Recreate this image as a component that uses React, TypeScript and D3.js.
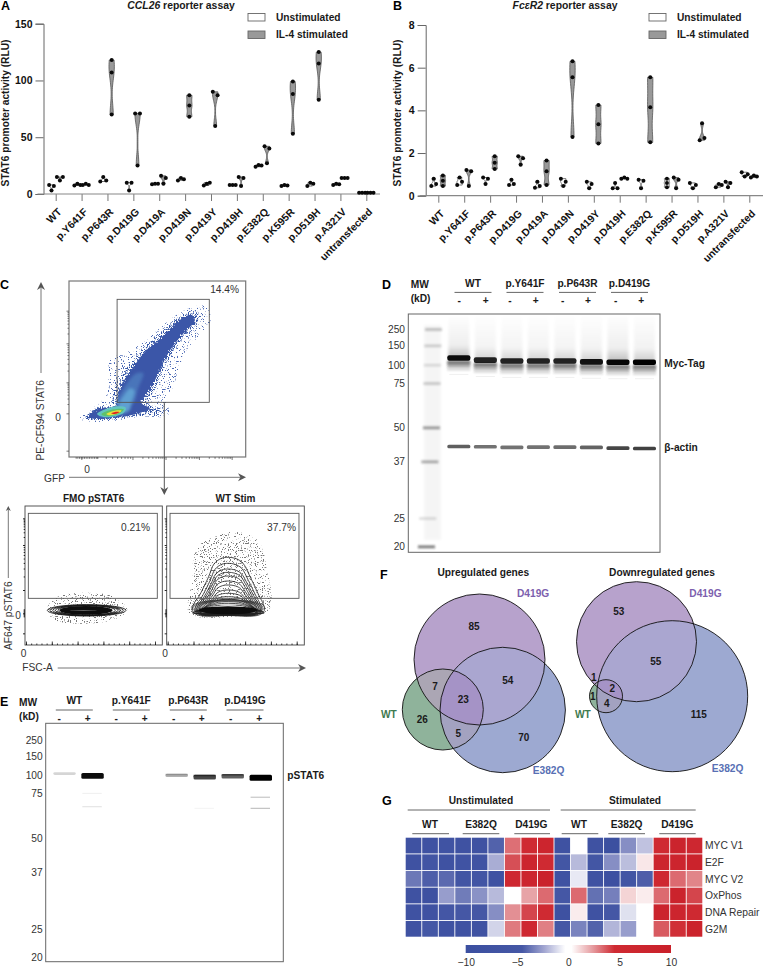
import React, { useEffect, useRef } from 'react';
import * as d3 from 'd3';

const FONT = '"Liberation Sans", Arial, sans-serif';

// ---- A / B reporter assays
const variants = ['WT', 'p.Y641F', 'p.P643R', 'p.D419G', 'p.D419A', 'p.D419N', 'p.D419Y', 'p.D419H', 'p.E382Q', 'p.K595R', 'p.D519H', 'p.A321V', 'untransfected'];
const conditions = ['Unstimulated', 'IL-4 stimulated'];

const ccl26Unstim = [[8, 3, 7], [7.5, 9, 8], [11, 15, 12], [10, 3, 10], [8.5, 9, 9], [12, 14, 13], [7.5, 9, 10], [8, 8, 8], [24, 25.5, 25], [7, 8, 7.5], [7, 10, 9], [8, 9, 8.5], [1, 1, 1]];
const ccl26Il4 = [[15, 12, 15], [8, 9, 8], [118, 107, 70], [71, 25, 71], [16, 14, 9], [87, 78, 68], [90, 87, 60], [15, 7, 14], [42, 27, 40], [99, 88, 53], [125, 115, 83], [14, 14, 14], [1, 1, 1]];
const fcerUnstim = [[0.45, 0.8, 0.55], [0.5, 0.85, 0.65], [0.85, 0.55, 0.8], [0.5, 0.75, 0.55], [0.37, 0.65, 0.45], [0.8, 0.65, 0.45], [0.65, 0.35, 0.55], [0.35, 0.6, 0.35], [0.75, 0.35, 0.7], [0.8, 0.6, 0.4], [0.6, 0.35, 0.5], [0.4, 0.55, 0.5], [1.1, 0.9, 1.0]];
const fcerIl4 = [[0.95, 0.7, 0.45], [1.2, 0.45, 1.15], [1.85, 1.55, 1.25], [1.85, 1.45, 1.75], [1.65, 1.15, 0.5], [6.3, 5.55, 2.75], [4.25, 3.35, 2.45], [0.8, 0.85, 0.8], [5.55, 4.15, 2.5], [0.85, 0.75, 0.35], [3.4, 2.6, 2.7], [0.65, 0.4, 0.6], [0.85, 0.95, 0.9]];

// ---- C flow cytometry, outlines (plot reading units)
const scatterOuter: [number, number][] = [[240, 535], [300, 488], [322, 462], [325, 420], [330, 360], [385, 335], [440, 300], [490, 255], [540, 218], [580, 200], [618, 200], [632, 240], [596, 288], [560, 330], [535, 390], [520, 440], [500, 470], [505, 525], [420, 530], [330, 544], [262, 544]];
const scatterHalo: [number, number][] = [[330, 500], [345, 440], [380, 385], [430, 325], [485, 275], [535, 232], [580, 212], [600, 222], [590, 250], [540, 305], [510, 350], [485, 400], [462, 455], [440, 488], [480, 505], [490, 520], [400, 530], [300, 540], [255, 536], [295, 500]];
const scatterBody: [number, number][] = [[348, 500], [360, 445], [398, 385], [440, 330], [490, 288], [540, 238], [575, 225], [585, 240], [540, 292], [505, 340], [478, 395], [450, 450], [425, 488], [450, 505], [400, 524], [300, 537], [262, 532], [300, 505]];
const scatterSoft: [number, number][] = [[352, 492], [372, 445], [410, 400], [430, 400], [415, 445], [398, 492]];
const scatterCyan: [number, number][] = [[345, 510], [368, 472], [392, 445], [404, 452], [395, 488], [388, 512], [340, 526], [298, 528]];
const scatterTeal: [number, number][] = [[292, 522], [340, 500], [378, 503], [372, 518], [320, 532]];
const scatterGreen: [number, number][] = [[305, 523], [340, 508], [372, 508], [360, 520], [320, 529]];
const scatterYellow: [number, number][] = [[320, 522], [345, 512], [365, 512], [355, 520], [330, 526]];
const scatterRed: [number, number][] = [[334, 520], [350, 515], [359, 516], [346, 522]];

const gfpMajor = [245, 398, 497, 597, 695];
const stat6Major = [212, 310, 427, 520, 632];
const pstat6Major = [205, 285, 420, 490, 550];
const fscMajor = [0, 50, 100, 150, 200, 250];

const fmoSpeckle: [number, number][] = [[140, 480], [170, 442], [260, 428], [340, 440], [382, 480], [330, 512], [170, 512]];
const fmoRings: [number, number][] = [[118, 17], [110, 16], [102, 15], [94, 14], [86, 14]];
const stimSpeckle: [number, number][] = [[568, 490], [575, 400], [590, 295], [640, 262], [700, 245], [772, 270], [800, 350], [806, 480], [690, 500]];
const stimContourTop = [322, 340, 357, 367, 378, 393, 405, 420, 430, 440, 448, 455, 460, 465];
const stimContourWidth = [108, 100, 96, 92, 88, 86, 84, 84, 86, 90, 95, 100, 105, 108];
const humpProfile: [number, number][] = [[-1, 0.05], [-0.95, 0.18], [-0.82, 0.3], [-0.55, 0.65], [-0.4, 0.88], [-0.2, 0.98], [0, 1], [0.2, 0.98], [0.4, 0.9], [0.6, 0.66], [0.85, 0.32], [0.98, 0.15], [1, 0.05], [0.85, -0.03], [0, -0.04], [-0.85, -0.03]];
const stimRings: [number, number][] = [[110, 23], [104, 22], [98, 21], [92, 20], [86, 19]];

// ---- D / E blots
const mwLabels = [250, 150, 100, 75, 50, 37, 25, 20];
const mwPosD = [268, 317, 375, 430, 563, 665, 835, 920];
const mwPosE = [300, 348, 406, 461, 595, 697, 868, 952];
const blotGroups = ['WT', 'p.Y641F', 'p.P643R', 'p.D419G'];
const blotLanes = ['WT -', 'WT +', 'Y -', 'Y +', 'P -', 'P +', 'D -', 'D +'];
const signs = ['-', '+', '-', '+', '-', '+', '-', '+'];
const ladderStrength = [0.26, 0.2, 0.14, 0.22, 0.45, 0.38, 0.14, 0.6];
const mycMw = [116, 111, 109, 109, 109, 107, 106, 106];
const mycStrength = [0.95, 0.85, 0.85, 0.85, 0.85, 0.92, 0.97, 1];
const actinMw = [42.3, 42.2, 42, 42.1, 42.1, 42, 41.7, 41.6];
const actinStrength = [0.66, 0.58, 0.58, 0.58, 0.6, 0.64, 0.76, 0.78];
const pstatLaneOrder = [0, 1, 4, 5, 6, 7];
const pstatStrength = [0.16, 0.95, 0.3, 0.72, 0.62, 1];
const pstatMain = [101, 99.5, 98.5, 97, 98, 97];
const pstatFaintLane = [1, 1, 7, 7, 5];
const pstatFaintMw = [76, 67, 73, 66, 66];
const pstatFaintStrength = [0.05, 0.1, 0.22, 0.24, 0.04];

// ---- F venn
const upLabels = ['85', '54', '7', '23', '26', '5', '70'];
const downLabels = ['53', '55', '1', '2', '1', '4', '115'];

// ---- G heatmap
const pathways = ['MYC V1', 'E2F', 'MYC V2', 'OxPhos', 'DNA Repair', 'G2M'];
const heatMyc1 = [-8, -8, -7, -8, -8, -4.2, 3.2, 4.6, 7, -8, 0.3, -8, -9.5, -3, -1.7, 4.6, 8, 6];
const heatE2f = [-8, -6, -8, -7, -7, -2.2, 3.8, 7, 4.6, -5.5, -1.9, -5.5, -3, -1.8, 0.8, 7, 7, 8.5];
const heatMyc2 = [-3.6, -4.3, -4, -6, -6, -8, 5.5, 7, 9, -8, -0.8, -8, -9, -6, -4.3, 5.5, 3.3, 2.8];
const heatOx = [-8, -8.5, -2.6, -3.5, -2.9, -1.9, 0, 2.2, 3.3, -4.6, 3.3, -3.8, -3.4, 1.2, 0.7, 3.3, 8.5, 4];
const heatDna = [-8, -8, -5, -4.5, -4.6, -3, 2.6, 4, 4.6, -8.5, 0.7, -8, -4.6, -1, 0, 8, 7, 5];
const heatG2m = [-8, -4.8, -8, -8, -8, -1.3, 3, 5.5, 2.9, -4.5, -3.3, -4.2, -2, -2.6, 0.1, 3.6, 4.4, 8.5];
const colourStops = [-10, -4.5, -2.4, -0.3, 0.3, 2.4, 4.5, 10];
const colourRange = ['#3b4fa0', '#4557a5', '#a0a4d0', '#ffffff', '#ffffff', '#e59a9e', '#cf2a32', '#c9202a'];
const colourTicks = [-10, -5, 0, 5, 10];

type G = d3.Selection<any, any, any, any>;

const txt = (g: G, x: number, y: number, s: string, o: any = {}) =>
  g.append('text')
    .attr('x', x).attr('y', y)
    .attr('font-family', FONT)
    .attr('font-size', o.size ?? 10.3)
    .attr('font-weight', o.bold ? 'bold' : 'normal')
    .attr('text-anchor', o.anchor ?? 'start')
    .attr('fill', o.fill ?? '#1a1a1a')
    .attr('transform', o.rotate ? `rotate(${o.rotate},${x},${y})` : null)
    .text(s);

// kernel density for the violin outline, cut flat at min and max like the prism plots
const violinProfile = (vals: number[], halfWidth: number): [number, number][] => {
  const lo = d3.min(vals)!;
  const hi = d3.max(vals)!;
  const bw = Math.max((hi - lo) * 0.2, 1e-3);
  const ts = d3.range(0, 1.0001, 1 / 24).map(t => lo + (hi - lo) * t);
  const dens = ts.map(t => d3.sum(vals, v => Math.exp(-0.5 * ((t - v) / bw) ** 2)));
  const top = d3.max(dens)!;
  return ts.map((t, i) => [t, Math.max(0.35, (halfWidth * dens[i]) / top)]);
};

// points that would overlap are put next to each other in a row
const dodge = (vals: number[], y: d3.ScaleLinear<number, number>) => {
  const px = vals.map(v => y(v));
  const order = d3.range(vals.length);
  const offs = vals.map(() => 0);
  const seen = new Set<number>();
  order.forEach(i => {
    if (seen.has(i)) return;
    const cluster = [i];
    seen.add(i);
    for (let k = 0; k < cluster.length; k++) {
      order.forEach(j => {
        if (!seen.has(j) && Math.abs(px[j] - px[cluster[k]]) < 3.6) {
          seen.add(j);
          cluster.push(j);
        }
      });
    }
    const step = cluster.length > 2 ? 3 : 4.8;
    cluster.sort((a, b) => a - b).forEach((c, n) => {
      offs[c] = (n - (cluster.length - 1) / 2) * step;
    });
  });
  return offs;
};

function drawReporter(svg: G, o: any) {
  const g = svg.append('g');
  const y = d3.scaleLinear().domain(o.domain).range(o.yRange);
  const x = d3.scalePoint<string>().domain(o.categories).range(o.xRange);
  const lane = d3.scalePoint<string>().domain(conditions).range([-o.laneOff, o.laneOff]);

  const yAxis = g.append('g').attr('transform', `translate(${o.axisX},0)`)
    .call(d3.axisLeft(y).tickValues(o.ticks).tickSize(8).tickPadding(3));
  yAxis.selectAll('path,line').attr('stroke', '#666').attr('stroke-width', 1);
  yAxis.selectAll('text').attr('font-family', FONT).attr('font-size', 10.5).attr('font-weight', 'bold').attr('fill', '#111');

  const xAxis = g.append('g').attr('transform', `translate(0,${o.yRange[0]})`)
    .call(d3.axisBottom(x).tickSize(7).tickPadding(3));
  xAxis.select('.domain').remove();
  xAxis.selectAll('line').attr('stroke', '#777').attr('stroke-width', 1);
  xAxis.selectAll('text')
    .attr('font-family', FONT).attr('font-size', 10.4).attr('font-weight', 'bold').attr('fill', '#111')
    .attr('text-anchor', 'end').attr('y', 0).attr('dy', '0.35em')
    .attr('transform', 'translate(3.5,16) rotate(-45)');
  g.append('line').attr('x1', o.axisX - 6).attr('x2', o.axisEnd)
    .attr('y1', o.yRange[0]).attr('y2', o.yRange[0]).attr('stroke', '#888').attr('stroke-width', 1.2);

  const series = [o.unstim, o.il4];
  conditions.forEach((c, ci) => {
    o.categories.forEach((cat: string, i: number) => {
      const vals: number[] = series[ci][i];
      const cx = x(cat)! + lane(c)!;
      const area = d3.area<[number, number]>()
        .x0(d => cx - d[1]).x1(d => cx + d[1]).y(d => y(d[0])).curve(d3.curveBasis);
      g.append('path').attr('d', area(violinProfile(vals, 2.7)))
        .attr('fill', ci === 0 ? '#fff' : '#999').attr('stroke', '#555').attr('stroke-width', 0.8);
      const offs = dodge(vals, y);
      vals.forEach((v, k) => {
        g.append('circle').attr('cx', cx + offs[k]).attr('cy', y(v)).attr('r', 2).attr('fill', '#0a0a0a');
      });
    });
  });

  // legend
  conditions.forEach((c, i) => {
    const ly = 13.5 + i * 17.5;
    g.append('rect').attr('x', o.legendX).attr('y', ly).attr('width', 17).attr('height', 7.5)
      .attr('fill', i === 0 ? '#fff' : '#999').attr('stroke', '#666').attr('stroke-width', 0.9);
    txt(g, o.legendX + 28, ly + 7.3, c, { bold: true, size: 10.2 });
  });

  const title = txt(g, o.titleX, 8.5, '', { bold: true, size: 10.4, anchor: 'middle' });
  title.append('tspan').attr('font-style', 'italic').text(o.gene);
  title.append('tspan').text(' reporter assay');

  txt(g, o.titleY, 113, 'STAT6 promoter activity (RLU)', { bold: true, size: 10.2, anchor: 'middle', rotate: -90 });
}

const arrow = (g: G, x1: number, y1: number, x2: number, y2: number, head = 7, colour = '#777') => {
  const a = Math.atan2(y2 - y1, x2 - x1);
  g.append('line').attr('x1', x1).attr('y1', y1)
    .attr('x2', x2 - Math.cos(a) * head * 0.7).attr('y2', y2 - Math.sin(a) * head * 0.7)
    .attr('stroke', colour).attr('stroke-width', 1);
  const pts: [number, number][] = [
    [x2, y2],
    [x2 - Math.cos(a) * head - Math.sin(a) * head * 0.5, y2 - Math.sin(a) * head + Math.cos(a) * head * 0.5],
    [x2 - Math.cos(a) * head * 0.7, y2 - Math.sin(a) * head * 0.7],
    [x2 - Math.cos(a) * head + Math.sin(a) * head * 0.5, y2 - Math.sin(a) * head - Math.cos(a) * head * 0.5],
  ];
  g.append('polygon').attr('points', pts.map(p => p.join(',')).join(' ')).attr('fill', '#555');
};

// minor log ticks between two major positions
const logMinors = (majors: number[]) =>
  d3.pairs(majors).flatMap(([a, b]) => d3.range(2, 10).map(k => a + (b - a) * Math.log10(k)));

function drawFlow(svg: G) {
  const g = svg.append('g');
  const fx = d3.scaleLinear().domain([208, 737]).range([69, 245.7]);
  const fy = d3.scaleLinear().domain([651, 123]).range([457, 281]);
  const blob = d3.line<[number, number]>().x(d => fx(d[0])).y(d => fy(d[1])).curve(d3.curveCatmullRomClosed.alpha(0.5));

  g.append('path').attr('d', blob(scatterOuter)).attr('fill', '#4a68b4').attr('filter', 'url(#speckleSparse)');
  g.append('path').attr('d', blob(scatterHalo)).attr('fill', '#3557a8').attr('filter', 'url(#speckleDense)');
  g.append('path').attr('d', blob(scatterBody)).attr('fill', '#3a57a8').attr('filter', 'url(#rough)');
  g.append('path').attr('d', blob(scatterSoft)).attr('fill', '#4a74ba').attr('filter', 'url(#blur15)');
  [[scatterCyan, '#5f9fd2'], [scatterTeal, '#62c3c0'], [scatterGreen, '#5fc26a'], [scatterYellow, '#e8e23c'], [scatterRed, '#e2231f']]
    .forEach(([poly, col]: any, i) => {
      g.append('path').attr('d', blob(poly)).attr('fill', col).attr('filter', i === 0 ? 'url(#blur15)' : 'url(#blur05)');
    });

  g.append('rect').attr('x', fx(208)).attr('y', fy(123)).attr('width', fx(737) - fx(208)).attr('height', fy(651) - fy(123))
    .attr('fill', 'none').attr('stroke', '#777').attr('stroke-width', 1.2);
  g.append('rect').attr('x', fx(352)).attr('y', fy(178)).attr('width', fx(628) - fx(352)).attr('height', fy(487) - fy(178))
    .attr('fill', 'none').attr('stroke', '#555').attr('stroke-width', 0.9);
  txt(g, fx(717), 293, '14.4%', { anchor: 'end', size: 10.2, fill: '#333' });

  const left = g.append('g').attr('transform', `translate(${fx(208)},0)`)
    .call(d3.axisLeft(fy).tickValues(stat6Major).tickSize(2.5).tickFormat(() => ''));
  const leftMinor = g.append('g').attr('transform', `translate(${fx(208)},0)`)
    .call(d3.axisLeft(fy).tickValues(logMinors([stat6Major[1], stat6Major[0]]).concat(logMinors([stat6Major[2], stat6Major[1]]), logMinors([stat6Major[3], stat6Major[2]]))).tickSize(1.5).tickFormat(() => ''));
  const bottom = g.append('g').attr('transform', `translate(0,${fy(651)})`)
    .call(d3.axisBottom(fx).tickValues(gfpMajor).tickSize(3).tickFormat(() => ''));
  const bottomMinor = g.append('g').attr('transform', `translate(0,${fy(651)})`)
    .call(d3.axisBottom(fx).tickValues(logMinors(gfpMajor).concat(d3.range(228, 296, 5))).tickSize(1.8).tickFormat(() => ''));
  [left, leftMinor, bottom, bottomMinor].forEach(a => {
    a.select('.domain').remove();
    a.selectAll('line').attr('stroke', '#444').attr('stroke-width', 0.7);
  });

  txt(g, 58, 420.5, '0', { anchor: 'middle', size: 10.2, fill: '#333' });
  txt(g, fx(262), 473.3, '0', { anchor: 'middle', size: 10.2, fill: '#333' });
  txt(g, 44, 482.3, 'GFP', { size: 10.2, fill: '#333' });
  arrow(g, 69, 477.3, 246, 477.3, 8);
  arrow(g, 41, 373, 41, 282, 8);
  txt(g, 44, 380, 'PE-CF594 STAT6', { size: 10.2, anchor: 'end', rotate: -90, fill: '#333' });
  arrow(g, 164.3, 402.3, 164.3, 495, 8, '#555');

  // lower row
  const py = d3.scaleLinear().domain([585, 168]).range([645, 506]);
  const panels = [
    { title: 'FMO pSTAT6', domain: [75, 487], range: [25, 162.3], gate: [85, 472], pct: '0.21%', pctX: 150 },
    { title: 'WT Stim', domain: [500, 913], range: [166.7, 304.3], gate: [510, 897], pct: '37.7%', pctX: 296 },
  ];
  const fsc = d3.scaleLinear().domain([0, 250]).range([0, 129]);
  panels.forEach((p, pi) => {
    const px = d3.scaleLinear().domain(p.domain).range(p.range);
    const pg = g.append('g');
    const poly = d3.line<[number, number]>().x(d => px(d[0])).y(d => py(d[1])).curve(d3.curveCatmullRomClosed.alpha(0.5));
    const ell = (cx: number, cy: number, rx: number, ry: number) =>
      pg.append('ellipse').attr('cx', px(cx)).attr('cy', py(cy))
        .attr('rx', px(cx + rx) - px(cx)).attr('ry', py(cy + ry) - py(cy));

    if (pi === 0) {
      pg.append('path').attr('d', poly(fmoSpeckle)).attr('fill', '#777').attr('filter', 'url(#speckleMid)');
      fmoRings.forEach(([rx, ry]) => {
        ell(260, 481, rx, ry).attr('fill', 'none').attr('stroke', '#111').attr('stroke-width', 0.8);
      });
      ell(258, 481, 80, 13).attr('fill', '#0d0d0d');
      ell(250, 481, 42, 0.8).attr('fill', '#bbb');
    } else {
      pg.append('path').attr('d', poly(stimSpeckle)).attr('fill', '#777').attr('filter', 'url(#speckleMid)');
      stimRings.forEach(([rx, ry]) => {
        ell(684, 472, rx, ry).attr('fill', '#fff').attr('fill-opacity', 0.5).attr('stroke', '#333').attr('stroke-width', 0.6);
      });
      stimContourTop.forEach((top, i) => {
        const hw = stimContourWidth[i];
        const pts = humpProfile.map(([t, f]): [number, number] => [685 + t * hw, 490 - f * (490 - top)]);
        pg.append('path').attr('d', poly(pts)).attr('fill', 'none').attr('stroke', '#222').attr('stroke-width', 0.8);
      });
      ell(684, 481, 88, 12).attr('fill', '#0d0d0d');
      ell(684, 465, 26, 2).attr('fill', '#eee');
      ell(640, 470, 18, 1).attr('fill', '#aaa');
    }

    pg.append('rect').attr('x', p.range[0]).attr('y', 506).attr('width', p.range[1] - p.range[0]).attr('height', 139)
      .attr('fill', 'none').attr('stroke', '#444').attr('stroke-width', 0.9);
    pg.append('rect').attr('x', px(p.gate[0])).attr('y', py(190)).attr('width', px(p.gate[1]) - px(p.gate[0])).attr('height', py(445) - py(190))
      .attr('fill', 'none').attr('stroke', '#555').attr('stroke-width', 0.9);
    txt(pg, p.pctX, 530.7, p.pct, { anchor: 'end', size: 10.2, fill: '#333' });
    txt(pg, (p.range[0] + p.range[1]) / 2, 501.7, p.title, { anchor: 'middle', bold: true, size: 10 });

    const fscAxis = d3.scaleLinear().domain([0, 250]).range([p.range[0] + 1, p.range[0] + 1 + fsc(250)]);
    const a1 = pg.append('g').attr('transform', 'translate(0,645)')
      .call(d3.axisBottom(fscAxis).tickValues(fscMajor).tickSize(-3.5).tickFormat(() => ''));
    const a2 = pg.append('g').attr('transform', 'translate(0,645)')
      .call(d3.axisBottom(fscAxis).tickValues(d3.range(0, 260, 10)).tickSize(-1.5).tickFormat(() => ''));
    [a1, a2].forEach(a => {
      a.select('.domain').remove();
      a.selectAll('line').attr('stroke', '#111').attr('stroke-width', 0.8);
    });
    const yRule = pg.append('g').attr('transform', `translate(${p.range[0]},0)`)
      .call(d3.axisLeft(py).tickValues(pstat6Major).tickSize(2).tickFormat(() => ''));
    const yMinor = pg.append('g').attr('transform', `translate(${p.range[0]},0)`)
      .call(d3.axisLeft(py).tickValues(logMinors([pstat6Major[2], pstat6Major[1]]).concat(logMinors([pstat6Major[1], pstat6Major[0]]), d3.range(478, 502, 3))).tickSize(1.3).tickFormat(() => ''));
    [yRule, yMinor].forEach(a => {
      a.select('.domain').remove();
      a.selectAll('line').attr('stroke', '#111').attr('stroke-width', 0.9);
    });
    txt(pg, p.range[0] - 1.5, 656.7, '0', { anchor: 'middle', size: 10.2, fill: '#333' });
  });

  txt(g, 18, 619.3, '0', { anchor: 'middle', size: 10.2, fill: '#333' });
  txt(g, 22.3, 670.7, 'FSC-A', { size: 10.2, fill: '#333' });
  arrow(g, 57.7, 668, 306, 668, 8);
  txt(g, 12, 650, 'AF647 pSTAT6', { size: 10.2, rotate: -90, fill: '#333' });
  arrow(g, 8.3, 578, 8.3, 506, 5);
}

// piecewise log scale from MW to gel position
const mwScale = (positions: number[], y0: number) =>
  d3.scaleLog().domain(mwLabels).range(positions.map(p => y0 + p / 3));

function blotHeader(g: G, o: any) {
  txt(g, o.mwX, o.mwY, 'MW', { bold: true, size: 10.2 });
  txt(g, o.mwX, o.mwY + o.kdDy, '(kD)', { bold: true, size: 10.2 });
  blotGroups.forEach((name, i) => {
    const c = o.groupX[i];
    txt(g, c, o.headY, name, { anchor: 'middle', bold: true, size: 10.2 });
    g.append('line').attr('x1', c - 18.5).attr('x2', c + 18.5).attr('y1', o.headY + 5.7).attr('y2', o.headY + 5.7)
      .attr('stroke', '#555').attr('stroke-width', 0.9);
  });
  signs.forEach((s, i) => {
    txt(g, o.signX[i], o.signY, s, { anchor: 'middle', bold: true, size: 10.2 });
  });
}

function drawBlotD(svg: G) {
  const g = svg.append('g');
  const y = mwScale(mwPosD, 240);
  const lanes = d3.scaleBand<string>().domain(blotLanes).range([447.3, 656]).paddingInner(0.13);
  const ladderShift = d3.scaleLog().domain([250, 50, 20]).range([0, -2, -7]);

  blotLanes.forEach((l, i) => {
    const x = lanes(l)!;
    const w = lanes.bandwidth();
    const yb = y(mycMw[i]);
    g.append('rect').attr('x', x + 1).attr('y', 316).attr('width', w - 2).attr('height', yb - 316)
      .attr('fill', 'url(#smear)').attr('opacity', mycStrength[i] * (i === 0 || i === 6 ? 1 : 0.75)).attr('filter', 'url(#blur15)');
    [[10.5, 0.2, 2], [7.5, 0.42, 2], [5, 0.55, 2.2], [3, 0.7, 2.2]].forEach(([dy, op, h]) => {
      g.append('rect').attr('x', x).attr('y', yb + dy).attr('width', w).attr('height', h)
        .attr('fill', '#222').attr('opacity', op).attr('filter', 'url(#blur1)');
    });
    g.append('rect').attr('x', x).attr('y', yb - 2.7).attr('width', w).attr('height', 5.6).attr('rx', 2)
      .attr('fill', '#000').attr('opacity', mycStrength[i]).attr('filter', 'url(#blur07)');
    g.append('rect').attr('x', x + 2).attr('y', yb + 16).attr('width', w - 4).attr('height', 1)
      .attr('fill', '#000').attr('opacity', 0.06).attr('filter', 'url(#blur05)');
    g.append('rect').attr('x', x).attr('y', y(actinMw[i]) - 1.8).attr('width', w).attr('height', 3.6).attr('rx', 1.5)
      .attr('fill', '#111').attr('opacity', actinStrength[i]).attr('filter', 'url(#blur07)');
  });

  g.append('rect').attr('x', 424).attr('y', 325).attr('width', 17).attr('height', 215).attr('fill', '#000').attr('opacity', 0.035).attr('filter', 'url(#blur15)');
  mwLabels.forEach((mw, i) => {
    g.append('rect').attr('x', 425 + ladderShift(mw)).attr('y', y(mw) - 1.2).attr('width', 17).attr('height', 2.8)
      .attr('fill', '#222').attr('opacity', ladderStrength[i]).attr('filter', 'url(#blur1)');
    txt(g, 405, y(mw) + 3.6, String(mw), { anchor: 'end', size: 10.2, fill: '#333' });
  });

  g.append('rect').attr('x', 408.3).attr('y', 314).attr('width', 251.7).attr('height', 238.3)
    .attr('fill', 'none').attr('stroke', '#666').attr('stroke-width', 1);

  blotHeader(g, {
    mwX: 410.7, mwY: 288, kdDy: 14, headY: 286.7, groupX: [473, 525, 577.5, 629.5],
    signX: [459.3, 485.7, 510, 535.7, 562.7, 588, 615.7, 641.3], signY: 304,
  });
  txt(g, 664.3, 367, 'Myc-Tag', { bold: true, size: 10.2 });
  txt(g, 664.3, 451, 'β-actin', { bold: true, size: 10.2 });
}

function drawBlotE(svg: G) {
  const g = svg.append('g');
  const y = mwScale(mwPosE, 640);
  const lanes = d3.scaleBand<string>().domain(blotLanes).range([53.3, 272]).paddingInner(0.2);

  pstatLaneOrder.forEach((li, i) => {
    const x = lanes(blotLanes[li])!;
    const w = lanes.bandwidth();
    const yb = y(pstatMain[i]);
    const s = pstatStrength[i];
    g.append('rect').attr('x', x).attr('y', yb - 2.6).attr('width', w).attr('height', 2 + s * 4).attr('rx', 1.5)
      .attr('fill', '#000').attr('opacity', s).attr('filter', 'url(#blur07)');
    if (s > 0.25 && s < 0.8) {
      g.append('rect').attr('x', x).attr('y', yb - 2.6).attr('width', w).attr('height', 1.6)
        .attr('fill', '#000').attr('opacity', s * 0.6).attr('filter', 'url(#blur05)');
    }
  });
  pstatFaintLane.forEach((li, i) => {
    g.append('rect').attr('x', lanes(blotLanes[li])! + 1).attr('y', y(pstatFaintMw[i])).attr('width', lanes.bandwidth() - 3).attr('height', 1.2)
      .attr('fill', '#000').attr('opacity', pstatFaintStrength[i]).attr('filter', 'url(#blur05)');
  });

  mwLabels.forEach(mw => {
    txt(g, 42.7, y(mw) + 3.6, String(mw), { anchor: 'end', size: 10.2, fill: '#333' });
  });
  g.append('rect').attr('x', 45.7).attr('y', 723.3).attr('width', 237.6).attr('height', 238.4)
    .attr('fill', 'none').attr('stroke', '#666').attr('stroke-width', 1);

  blotHeader(g, {
    mwX: 19, mwY: 706, kdDy: 13.5, headY: 704.3, groupX: [74.3, 131.3, 188.3, 245],
    signX: [59.3, 87.7, 116.3, 144.7, 173.7, 201.7, 230.7, 259.3], signY: 722,
  });
  txt(g, 287.3, 779.3, 'pSTAT6', { bold: true, size: 10.2 });
}

function drawVenn(svg: G, o: any, idx: number) {
  const g = svg.append('g');
  const names = ['d', 'e', 'w'];
  const defs = g.append('defs');
  names.forEach(n => {
    const c = o[n];
    defs.append('clipPath').attr('id', `v${idx}${n}`)
      .append('circle').attr('cx', c[0]).attr('cy', c[1]).attr('r', c[2]);
  });
  const region = (sets: string[], colour: string) => {
    let host: G = g;
    sets.slice(1).forEach(s => { host = host.append('g').attr('clip-path', `url(#v${idx}${s})`); });
    const c = o[sets[0]];
    host.append('circle').attr('cx', c[0]).attr('cy', c[1]).attr('r', c[2]).attr('fill', colour);
  };
  region(['d'], '#b7a2cc');
  region(['e'], '#9da9d1');
  region(['w'], '#8fb39b');
  region(['d', 'e'], '#aaa6d0');
  region(['d', 'w'], '#aba6b4');
  region(['e', 'w'], '#a3a2c0');
  region(['d', 'e', 'w'], '#a593c6');
  names.forEach(n => {
    const c = o[n];
    g.append('circle').attr('cx', c[0]).attr('cy', c[1]).attr('r', c[2]).attr('fill', 'none').attr('stroke', '#111').attr('stroke-width', 0.9);
  });
  o.labels.forEach((s: string, i: number) => {
    txt(g, o.at[i][0], o.at[i][1] + 3.6, s, { anchor: 'middle', bold: true, size: 10 });
  });
  txt(g, o.title[1], 575.7, o.title[0], { anchor: 'middle', bold: true, size: 10.2 });
  txt(g, o.dl[0], o.dl[1], 'D419G', { bold: true, size: 10.2, fill: '#7d5fae' });
  txt(g, o.el[0], o.el[1], 'E382Q', { bold: true, size: 10.2, fill: '#5870b4' });
  txt(g, o.wl[0], o.wl[1], 'WT', { bold: true, size: 10.2, fill: '#3f7a4e' });
}

function drawHeat(svg: G) {
  const g = svg.append('g');
  const table = [heatMyc1, heatE2f, heatMyc2, heatOx, heatDna, heatG2m];
  const col = d3.scaleBand<number>().domain(d3.range(18)).range([405.7, 702.3]).paddingInner(0.055);
  const row = d3.scaleBand<string>().domain(pathways).range([837.7, 936.7]).paddingInner(0.055);
  const colour = d3.scaleLinear<string>().domain(colourStops).range(colourRange);

  table.forEach((vals, r) => {
    vals.forEach((v, c) => {
      g.append('rect').attr('x', col(c)!).attr('y', row(pathways[r])!)
        .attr('width', col.bandwidth()).attr('height', row.bandwidth()).attr('fill', colour(v));
    });
    txt(g, 705, row(pathways[r])! + row.bandwidth() / 2 + 3.7, pathways[r], { size: 10.3, fill: '#333' });
  });

  [['Unstimulated', 481, 407.7, 550], ['Stimulated', 635, 560.7, 695.7]].forEach(([s, c, a, b]: any) => {
    txt(g, c, 804, s, { anchor: 'middle', bold: true, size: 10.2 });
    g.append('line').attr('x1', a).attr('x2', b).attr('y1', 810).attr('y2', 810).attr('stroke', '#555').attr('stroke-width', 0.9);
  });
  [['WT', 430, 412.3, 449], ['E382Q', 481, 462.7, 499.3], ['D419G', 531.3, 514.3, 550], ['WT', 579, 561.7, 598.3], ['E382Q', 626.7, 608.3, 645], ['D419G', 677.3, 659.3, 695.7]]
    .forEach(([s, c, a, b]: any) => {
      txt(g, c, 828, s, { anchor: 'middle', bold: true, size: 10.2 });
      g.append('line').attr('x1', a).attr('x2', b).attr('y1', 833.7).attr('y2', 833.7).attr('stroke', '#555').attr('stroke-width', 0.9);
    });

  const bar = d3.scaleLinear().domain([-10, 10]).range([465.7, 671]);
  const grad = g.append('defs').append('linearGradient').attr('id', 'heatBar');
  colourStops.forEach(v => {
    grad.append('stop').attr('offset', `${((v + 10) / 20) * 100}%`).attr('stop-color', colour(v));
  });
  g.append('rect').attr('x', bar(-10)).attr('y', 945).attr('width', bar(10) - bar(-10)).attr('height', 8).attr('fill', 'url(#heatBar)');
  const ax = g.append('g').attr('transform', 'translate(0,953)')
    .call(d3.axisBottom(bar).tickValues(colourTicks).tickSize(0).tickPadding(6));
  ax.select('.domain').remove();
  ax.selectAll('text').attr('font-family', FONT).attr('font-size', 10.3).attr('fill', '#333');
}

function addFilters(svg: G) {
  const defs = svg.append('defs');
  const speckle = (id: string, thr: number) => {
    const f = defs.append('filter').attr('id', id).attr('x', '-5%').attr('y', '-5%').attr('width', '110%').attr('height', '110%')
      .attr('color-interpolation-filters', 'sRGB');
    f.append('feTurbulence').attr('type', 'fractalNoise').attr('baseFrequency', 0.85).attr('numOctaves', 1).attr('seed', 4).attr('result', 'n');
    f.append('feColorMatrix').attr('in', 'n').attr('type', 'matrix')
      .attr('values', `0 0 0 0 0  0 0 0 0 0  0 0 0 0 0  14 0 0 0 ${-14 * thr}`).attr('result', 'mask');
    f.append('feComposite').attr('in', 'SourceGraphic').attr('in2', 'mask').attr('operator', 'in');
  };
  speckle('speckleSparse', 0.6);
  speckle('speckleDense', 0.5);
  speckle('speckleMid', 0.58);
  const rough = defs.append('filter').attr('id', 'rough').attr('x', '-5%').attr('y', '-5%').attr('width', '110%').attr('height', '110%');
  rough.append('feTurbulence').attr('type', 'fractalNoise').attr('baseFrequency', 0.5).attr('numOctaves', 2).attr('seed', 2).attr('result', 'n');
  rough.append('feDisplacementMap').attr('in', 'SourceGraphic').attr('in2', 'n').attr('scale', 4);
  [['blur05', 0.5], ['blur07', 0.7], ['blur1', 1], ['blur15', 1.5]].forEach(([id, sd]) => {
    defs.append('filter').attr('id', id).attr('x', '-20%').attr('y', '-200%').attr('width', '140%').attr('height', '500%')
      .append('feGaussianBlur').attr('stdDeviation', sd);
  });
  const smear = defs.append('linearGradient').attr('id', 'smear').attr('x1', 0).attr('x2', 0).attr('y1', 0).attr('y2', 1);
  smear.append('stop').attr('offset', '0%').attr('stop-color', '#000').attr('stop-opacity', 0.01);
  smear.append('stop').attr('offset', '70%').attr('stop-color', '#000').attr('stop-opacity', 0.07);
  smear.append('stop').attr('offset', '100%').attr('stop-color', '#000').attr('stop-opacity', 0.28);
}

export default function App() {
  const ref = useRef<SVGSVGElement>(null);

  useEffect(() => {
    if (!ref.current) return;
    const svg = d3.select(ref.current);
    svg.selectAll('*').remove();
    addFilters(svg);

    drawReporter(svg, {
      domain: [0, 150], ticks: [0, 50, 100, 150], yRange: [194, 23.7], xRange: [55.7, 366.3], categories: variants,
      unstim: ccl26Unstim, il4: ccl26Il4, laneOff: 4.2, axisX: 43.5, axisEnd: 380, legendX: 248, titleX: 181, titleY: 9, gene: 'CCL26',
    });
    drawReporter(svg, {
      domain: [0, 8], ticks: [0, 2, 4, 6, 8], yRange: [195.7, 25], xRange: [438.3, 749.3], categories: variants,
      unstim: fcerUnstim, il4: fcerIl4, laneOff: 4.6, axisX: 425.7, axisEnd: 763, legendX: 649, titleX: 565, titleY: 401, gene: 'FcεR2',
    });
    drawFlow(svg);
    drawBlotD(svg);
    drawBlotE(svg);
    drawVenn(svg, {
      d: [479.5, 659.5, 65.5], e: [502.7, 710, 62.7], w: [442.8, 709.5, 40.5],
      labels: upLabels,
      at: [[474, 626], [507.7, 680.7], [435, 686.7], [463.3, 699.7], [422.3, 719.3], [458.3, 733.3], [523.7, 737.7]],
      title: ['Upregulated genes', 483.3], dl: [517, 597], el: [532.7, 774], wl: [381, 718.3],
    }, 0);
    drawVenn(svg, {
      d: [636.5, 641.7, 60], e: [672.2, 696.2, 75.5], w: [606, 696.2, 16.5],
      labels: downLabels,
      at: [[618.7, 611.3], [655.7, 661.3], [593.7, 677], [612.3, 688.7], [592.7, 696], [606.7, 703], [698.7, 714.7]],
      title: ['Downregulated genes', 662], dl: [689.3, 597], el: [711.7, 772], wl: [575, 718.3],
    }, 1);
    drawHeat(svg);

    [['A', 1, 10], ['B', 393, 10], ['C', 0, 289], ['D', 382, 289], ['E', 0, 706], ['F', 380, 579], ['G', 382, 805]]
      .forEach(([s, x, y]: any) => txt(svg, x, y, s, { bold: true, size: 12.5, fill: '#000' }));
  }, []);

  return <svg ref={ref} width={763} height={969} style={{ position: 'absolute', left: 0, top: 0, background: '#fff' }} />;
}
